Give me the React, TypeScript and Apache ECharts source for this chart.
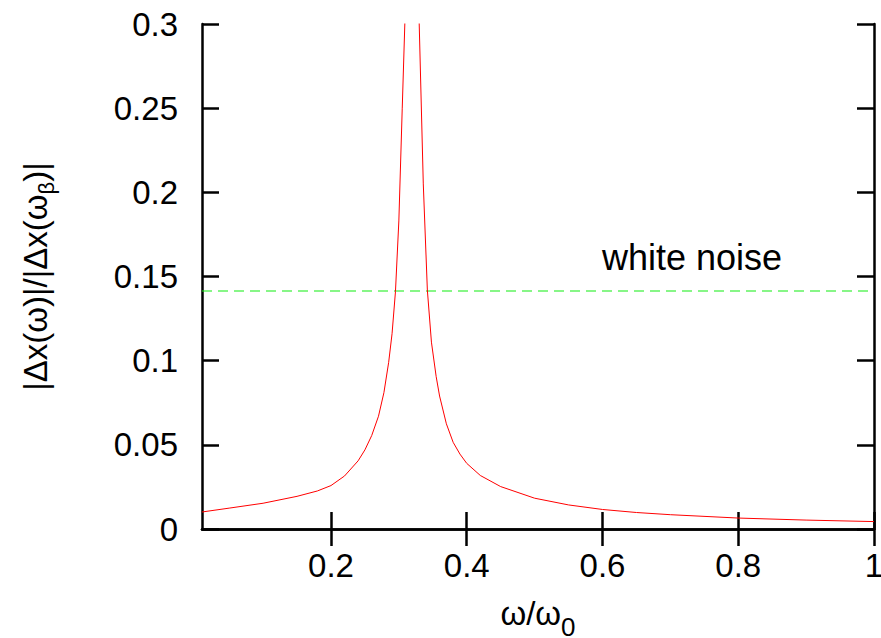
import React, { useEffect, useRef } from "react";
import * as echarts from "echarts";

const omega: number[] = [
  0.01, 0.05, 0.1, 0.15, 0.18, 0.2, 0.22, 0.24, 0.25, 0.26, 0.27, 0.278, 0.285, 0.29, 0.295, 0.3, 0.305, 0.3088,
  0.312, 0.318, 0.326,
  0.33, 0.336, 0.342, 0.348, 0.355, 0.36, 0.37, 0.38, 0.39, 0.4, 0.42, 0.45, 0.5, 0.55, 0.6, 0.65, 0.7, 0.8, 0.9, 1.0,
];
const response: number[] = [
  0.0101, 0.0124, 0.0153, 0.0194, 0.0226, 0.0258, 0.0315, 0.0405, 0.047, 0.0555, 0.067, 0.081, 0.099, 0.116, 0.141, 0.183, 0.25, 0.3,
  0.4, 3.0, 0.4,
  0.3, 0.205, 0.142, 0.111, 0.0905, 0.079, 0.0625, 0.0515, 0.0445, 0.039, 0.0318, 0.0252, 0.0183, 0.0143, 0.0116, 0.0098, 0.0085, 0.0065, 0.0053, 0.0044,
];
const whiteNoiseLevel = 0.1414;
const whiteNoiseRange: number[] = [0.01, 1.0];
const xTicks: number[] = [0.2, 0.4, 0.6, 0.8, 1];
const xTitle = "ω/ω";
const xTitleSub = "0";
const yTitleA = "|Δx(ω)|/|Δx(ω";
const yTitleSub = "β";
const yTitleB = ")|";
const noiseLabel = "white noise";

const FONT = "'Liberation Sans', Arial, sans-serif";

export default function App() {
  const ref = useRef<HTMLDivElement>(null);
  useEffect(() => {
    if (!ref.current) return;
    const chart = echarts.init(ref.current, undefined, { renderer: "svg" });
    const axisLine = { show: true, lineStyle: { color: "#000", width: 2.5 } };
    const axisTick = { show: true, inside: true, length: 17, lineStyle: { color: "#000", width: 2.5 } };
    chart.setOption({
      animation: false,
      backgroundColor: "#fff",
      grid: { left: 202, right: 7, top: 24, bottom: 109, containLabel: false, outerBoundsMode: "none" },
      xAxis: [
        {
          type: "value",
          min: 0.01,
          max: 1,
          position: "bottom",
          axisLine,
          axisTick: { ...axisTick, customValues: xTicks },
          axisLabel: {
            customValues: xTicks,
            fontSize: 33,
            fontFamily: FONT,
            color: "#000",
            margin: 20,
            hideOverlap: false,
            formatter: (v: number) => String(parseFloat(v.toFixed(2))),
          },
          splitLine: { show: false },
          name: `{a|${xTitle}}{b|${xTitleSub}}`,
          nameLocation: "middle",
          nameGap: 68,
          nameTextStyle: {
            fontFamily: FONT,
            color: "#000",
            rich: {
              a: { fontSize: 33, lineHeight: 33, fontFamily: FONT, color: "#000", verticalAlign: "top" },
              b: { fontSize: 26, lineHeight: 26, fontFamily: FONT, color: "#000", verticalAlign: "top", padding: [17, 0, 0, 0] },
            },
          },
        },
        {
          type: "value",
          min: 0.01,
          max: 1,
          position: "top",
          axisLine,
          axisTick: { ...axisTick, customValues: xTicks },
          axisLabel: { show: false },
          splitLine: { show: false },
        },
      ],
      yAxis: [
        {
          type: "value",
          min: 0,
          max: 0.3,
          interval: 0.05,
          position: "left",
          axisLine,
          axisTick,
          axisLabel: {
            fontSize: 33,
            fontFamily: FONT,
            color: "#000",
            margin: 24,
            formatter: (v: number) => String(parseFloat(v.toFixed(2))),
          },
          splitLine: { show: false },
          name: `{a|${yTitleA}}{b|${yTitleSub}}{a|${yTitleB}}`,
          nameLocation: "middle",
          nameRotate: 90,
          nameGap: 150,
          nameTextStyle: {
            fontFamily: FONT,
            color: "#000",
            rich: {
              a: { fontSize: 33, lineHeight: 33, fontFamily: FONT, color: "#000", verticalAlign: "top" },
              b: { fontSize: 22, lineHeight: 22, fontFamily: FONT, color: "#000", verticalAlign: "top", padding: [16, 0, 0, 0] },
            },
          },
        },
        {
          type: "value",
          min: 0,
          max: 0.3,
          interval: 0.05,
          position: "right",
          axisLine,
          axisTick,
          axisLabel: { show: false },
          splitLine: { show: false },
        },
      ],
      series: [
        {
          type: "line",
          xAxisIndex: 0,
          yAxisIndex: 0,
          data: omega.map((w, i) => [w, response[i]]),
          showSymbol: false,
          symbol: "none",
          smooth: false,
          clip: true,
          lineStyle: { color: "#ff0000", width: 1 },
          z: 3,
        },
        {
          type: "line",
          xAxisIndex: 0,
          yAxisIndex: 0,
          data: whiteNoiseRange.map((w) => [w, whiteNoiseLevel]),
          showSymbol: false,
          symbol: "none",
          lineStyle: { color: "#11ee11", width: 1.2, type: [10, 6] },
          z: 2,
        },
      ],
      graphic: [
        {
          type: "text",
          left: 602,
          top: 239,
          style: { text: noiseLabel, fontSize: 36, fontFamily: FONT, fill: "#000" },
        },
      ],
    });
    return () => chart.dispose();
  }, []);
  return <div ref={ref} style={{ width: 881, height: 638, position: "absolute", left: 0, top: 0 }} />;
}
